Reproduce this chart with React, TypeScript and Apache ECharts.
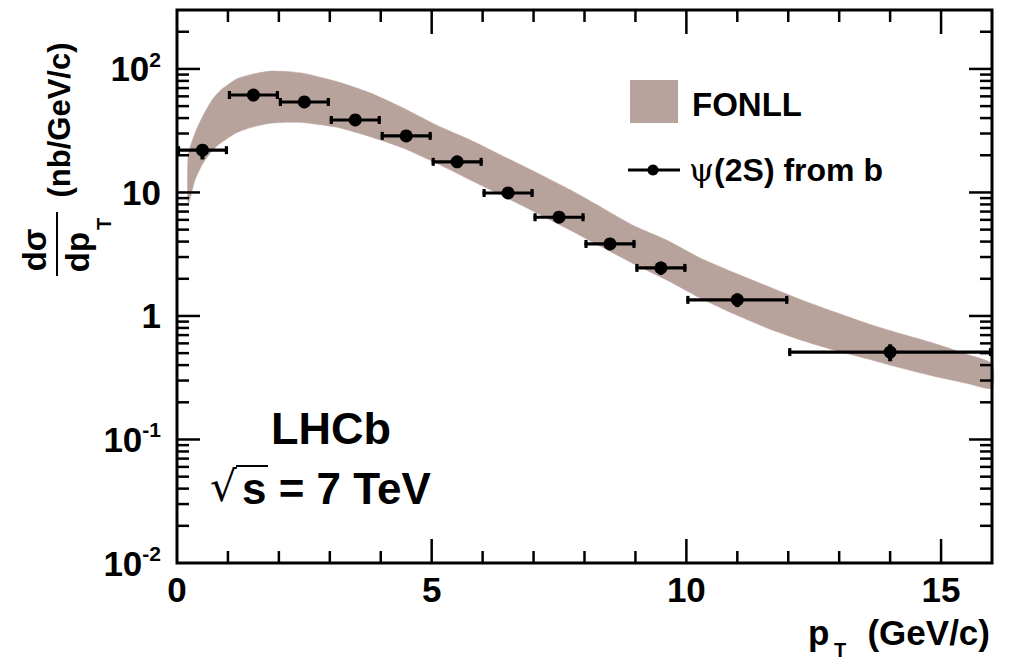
import React, { useEffect, useRef } from "react";
import * as echarts from "echarts";

// ---- Data ----
const binCenters = [0.5, 1.5, 2.5, 3.5, 4.5, 5.5, 6.5, 7.5, 8.5, 9.5, 11, 14];
const binLo = [0, 1, 2, 3, 4, 5, 6, 7, 8, 9, 10, 12];
const binHi = [1, 2, 3, 4, 5, 6, 7, 8, 9, 10, 12, 16];
const psiValues = [22, 61.5, 54, 38.6, 28.7, 17.7, 9.9, 6.3, 3.83, 2.45, 1.35, 0.51];
const psiErrLo = [3.5, 4, 3.5, 2.5, 2, 1.2, 0.7, 0.45, 0.3, 0.3, 0.17, 0.08];
const psiErrHi = [2.5, 4, 3.5, 2.5, 2, 1.2, 0.7, 0.45, 0.3, 0.3, 0.17, 0.08];

const fonllX = [0.22, 0.35, 0.5, 0.7, 0.85, 1.17, 1.5, 1.83, 2.2, 2.5, 3.14, 3.79, 4.45, 5.1, 5.76, 6.42, 7.07, 7.72, 8.35, 8.96, 9.62, 10.27, 10.93, 11.58, 12.24, 12.9, 13.55, 14.2, 14.86, 15.5, 16];
const fonllLo = [8, 12.5, 17, 22, 25, 30.5, 34, 36.3, 37, 36.7, 33.7, 28.3, 22.8, 17.2, 12.6, 9.25, 6.8, 4.95, 3.6, 2.65, 1.95, 1.4, 1.04, 0.8, 0.64, 0.53, 0.45, 0.38, 0.325, 0.285, 0.26];
const fonllHi = [20, 30, 41, 57, 67, 83, 91, 96, 95, 92, 79, 64, 48, 35, 26.6, 19.5, 14.4, 10.5, 7.5, 5.4, 4.1, 2.95, 2.25, 1.75, 1.36, 1.08, 0.87, 0.72, 0.6, 0.49, 0.41];

const xMajorTicks = [5, 10, 15];
const xMinorTicks = [1, 2, 3, 4, 6, 7, 8, 9, 11, 12, 13, 14];
const yMajorTicks = [0.1, 1, 10, 100];
const yMinorTicks = [
  0.02, 0.03, 0.04, 0.05, 0.06, 0.07, 0.08, 0.09,
  0.2, 0.3, 0.4, 0.5, 0.6, 0.7, 0.8, 0.9,
  2, 3, 4, 5, 6, 7, 8, 9,
  20, 30, 40, 50, 60, 70, 80, 90,
  200,
];

const X_MIN = 0;
const X_MAX = 16;
const Y_MIN = 0.01;
const Y_MAX = 300;

const FONT = "'Liberation Sans', Arial, Helvetica, sans-serif";
const BAND = "#b8a39c";

function superLabel(v: number): string {
  const e = Math.round(Math.log10(v));
  if (Math.abs(Math.log10(v) - e) > 1e-6) return "";
  if (e === 1) return "{m|10}";
  if (e === 0) return "{m|1}";
  return "{m|10}{s|" + e + "}";
}

export default function App() {
  const ref = useRef<HTMLDivElement>(null);

  useEffect(() => {
    if (!ref.current) return;
    const chart = echarts.init(ref.current, null, { renderer: "svg" });

    const tickSeries = (name: string, data: number[][], kind: "x" | "y", len: number) => ({
      type: "custom",
      name,
      silent: true,
      z: 10,
      encode: { x: 0, y: 1 },
      data,
      renderItem: (params: any, api: any) => {
        const cs = params.coordSys;
        const p = api.coord([api.value(0), api.value(1)]);
        const st = { stroke: "#000", lineWidth: 2.5 };
        if (kind === "y") {
          return {
            type: "group",
            children: [
              { type: "line", shape: { x1: cs.x, y1: p[1], x2: cs.x + len, y2: p[1] }, style: st },
              { type: "line", shape: { x1: cs.x + cs.width, y1: p[1], x2: cs.x + cs.width - len, y2: p[1] }, style: st },
            ],
          };
        }
        return {
          type: "group",
          children: [
            { type: "line", shape: { x1: p[0], y1: cs.y + cs.height, x2: p[0], y2: cs.y + cs.height - len }, style: st },
            { type: "line", shape: { x1: p[0], y1: cs.y, x2: p[0], y2: cs.y + len }, style: st },
          ],
        };
      },
    });

    const option: any = {
      animation: false,
      grid: { left: 177, right: 18, top: 10, bottom: 102, show: false },
      xAxis: {
        type: "value",
        min: X_MIN,
        max: X_MAX,
        interval: 5,
        axisLine: { show: false },
        axisTick: { show: false },
        splitLine: { show: false },
        axisLabel: {
          margin: 9,
          color: "#000",
          fontSize: 35,
          fontWeight: "bold",
          fontFamily: FONT,
          formatter: (v: number) => (Math.abs(v % 5) < 1e-9 ? String(v) : ""),
        },
      },
      yAxis: {
        type: "log",
        logBase: 10,
        min: Y_MIN,
        max: Y_MAX,
        axisLine: { show: false },
        axisTick: { show: false },
        splitLine: { show: false },
        axisLabel: {
          margin: 16,
          color: "#000",
          formatter: (v: number) => superLabel(v),
          rich: {
            m: { fontSize: 35, fontWeight: "bold", fontFamily: FONT, color: "#000", lineHeight: 40 },
            s: { fontSize: 21, fontWeight: "bold", fontFamily: FONT, color: "#000", lineHeight: 20, verticalAlign: "top" },
          },
        },
      },
      series: [
        {
          type: "custom",
          name: "FONLL",
          silent: true,
          z: 1,
          encode: { x: 0, y: [1, 2] },
          data: fonllX.map((x, i) => [x, fonllLo[i], fonllHi[i]]),
          renderItem: (params: any, api: any) => {
            if (params.dataIndex !== 0) return null;
            const pts: number[][] = [];
            for (let i = 0; i < fonllX.length; i++) pts.push(api.coord([fonllX[i], fonllHi[i]]));
            for (let i = fonllX.length - 1; i >= 0; i--) pts.push(api.coord([fonllX[i], fonllLo[i]]));
            return {
              type: "polygon",
              shape: { points: pts, smooth: 0.2 },
              style: { fill: BAND, stroke: BAND, lineWidth: 0.5 },
            };
          },
        },
        {
          type: "custom",
          name: "psi errors",
          silent: true,
          z: 5,
          encode: { x: 0, y: 1 },
          data: binCenters.map((x, i) => [x, psiValues[i], binLo[i], binHi[i], psiValues[i] - psiErrLo[i], psiValues[i] + psiErrHi[i]]),
          renderItem: (params: any, api: any) => {
            const c = api.coord([api.value(0), api.value(1)]);
            const l = api.coord([api.value(2), api.value(1)]);
            const r = api.coord([api.value(3), api.value(1)]);
            const lo = api.coord([api.value(0), api.value(4)]);
            const hi = api.coord([api.value(0), api.value(5)]);
            const st = { stroke: "#000", lineWidth: 3.2 };
            return {
              type: "group",
              children: [
                { type: "line", shape: { x1: l[0], y1: c[1], x2: r[0], y2: c[1] }, style: st },
                { type: "line", shape: { x1: c[0], y1: lo[1], x2: c[0], y2: hi[1] }, style: { stroke: "#000", lineWidth: 4 } },
                { type: "line", shape: { x1: l[0] + 1.5, y1: c[1] - 4, x2: l[0] + 1.5, y2: c[1] + 4 }, style: st },
                { type: "line", shape: { x1: r[0] - 1.5, y1: c[1] - 4, x2: r[0] - 1.5, y2: c[1] + 4 }, style: st },
              ],
            };
          },
        },
        {
          type: "scatter",
          name: "ψ(2S) from b",
          z: 6,
          symbol: "circle",
          symbolSize: 13,
          itemStyle: { color: "#000", opacity: 1 },
          data: binCenters.map((x, i) => [x, psiValues[i]]),
        },
        tickSeries("yMajor", yMajorTicks.map((v) => [X_MIN, v]), "y", 23),
        tickSeries("yMinor", yMinorTicks.map((v) => [X_MIN, v]), "y", 12),
        tickSeries("xMajor", xMajorTicks.map((v) => [v, 1]), "x", 24),
        tickSeries("xMinor", xMinorTicks.map((v) => [v, 1]), "x", 12),
        {
          type: "custom",
          name: "frame",
          silent: true,
          z: 11,
          encode: { x: 0, y: 1 },
          data: [[X_MIN, Y_MIN]],
          renderItem: (params: any, api: any) => {
            const cs = params.coordSys;
            return {
              type: "rect",
              shape: { x: cs.x, y: cs.y, width: cs.width, height: cs.height },
              style: { fill: "none", stroke: "#000", lineWidth: 3 },
            };
          },
        },
      ],
      graphic: [
        // y-axis title
        {
          type: "text", x: 59, y: 120, rotation: Math.PI / 2,
          style: { text: "(nb/GeV/c)", fontSize: 31, fontWeight: "bold", fontFamily: FONT, fill: "#000", align: "center", verticalAlign: "middle", textAlign: "center", textVerticalAlign: "middle" },
        },
        {
          type: "text", x: 34, y: 250, rotation: Math.PI / 2,
          style: { text: "dσ", fontSize: 33, fontWeight: "bold", fontFamily: FONT, fill: "#000", align: "center", verticalAlign: "middle", textAlign: "center", textVerticalAlign: "middle" },
        },
        { type: "line", shape: { x1: 57, y1: 212, x2: 57, y2: 276 }, style: { stroke: "#000", lineWidth: 2 } },
        {
          type: "text", x: 77, y: 252, rotation: Math.PI / 2,
          style: { text: "dp", fontSize: 33, fontWeight: "bold", fontFamily: FONT, fill: "#000", align: "center", verticalAlign: "middle", textAlign: "center", textVerticalAlign: "middle" },
        },
        {
          type: "text", x: 104, y: 224, rotation: Math.PI / 2,
          style: { text: "T", fontSize: 20, fontWeight: "bold", fontFamily: FONT, fill: "#000", align: "center", verticalAlign: "middle", textAlign: "center", textVerticalAlign: "middle" },
        },
        // x-axis title
        {
          type: "text", x: 808, y: 632,
          style: { text: "p", fontSize: 35, fontWeight: "bold", fontFamily: FONT, fill: "#000", align: "left", verticalAlign: "middle", textAlign: "left", textVerticalAlign: "middle" },
        },
        {
          type: "text", x: 834, y: 650,
          style: { text: "T", fontSize: 20, fontWeight: "bold", fontFamily: FONT, fill: "#000", align: "left", verticalAlign: "middle", textAlign: "left", textVerticalAlign: "middle" },
        },
        {
          type: "text", x: 990, y: 632,
          style: { text: "(GeV/c)", fontSize: 35, fontWeight: "bold", fontFamily: FONT, fill: "#000", align: "right", verticalAlign: "middle", textAlign: "right", textVerticalAlign: "middle" },
        },
        // legend
        { type: "rect", shape: { x: 630, y: 80, width: 48, height: 43 }, style: { fill: BAND } },
        {
          type: "text", x: 692, y: 104,
          style: { text: "FONLL", fontSize: 33, fontWeight: "bold", fontFamily: FONT, fill: "#000", align: "left", verticalAlign: "middle", textAlign: "left", textVerticalAlign: "middle" },
        },
        { type: "line", shape: { x1: 628, y1: 170, x2: 680, y2: 170 }, style: { stroke: "#000", lineWidth: 3 } },
        { type: "circle", shape: { cx: 653, cy: 170, r: 5.5 }, style: { fill: "#000" } },
        {
          type: "text", x: 689, y: 170,
          style: {
            text: "{g|ψ}(2S) from b", fontSize: 32, fontWeight: "bold", fontFamily: FONT, fill: "#000",
            align: "left", verticalAlign: "middle", textAlign: "left", textVerticalAlign: "middle",
            rich: { g: { fontSize: 32, fontWeight: "normal", fontFamily: "'DejaVu Serif', serif", fill: "#000" } },
          },
        },
        // LHCb labels
        {
          type: "text", x: 271, y: 428,
          style: { text: "LHCb", fontSize: 45, fontWeight: "bold", fontFamily: FONT, fill: "#000", align: "left", verticalAlign: "middle", textAlign: "left", textVerticalAlign: "middle" },
        },
        {
          type: "text", x: 210, y: 486,
          style: { text: "√", fontSize: 42, fontWeight: "normal", fontFamily: "'DejaVu Sans', sans-serif", fill: "#000", align: "left", verticalAlign: "middle", textAlign: "left", textVerticalAlign: "middle" },
        },
        { type: "line", shape: { x1: 236, y1: 466, x2: 268, y2: 466 }, style: { stroke: "#000", lineWidth: 2 } },
        {
          type: "text", x: 242, y: 488,
          style: { text: "s = 7 TeV", fontSize: 44, fontWeight: "bold", fontFamily: FONT, fill: "#000", align: "left", verticalAlign: "middle", textAlign: "left", textVerticalAlign: "middle" },
        },
      ],
    };

    chart.setOption(option);
    return () => chart.dispose();
  }, []);

  return (
    <div
      ref={ref}
      style={{ position: "fixed", left: 0, top: 0, width: 1010, height: 665, background: "#fff" }}
    />
  );
}
